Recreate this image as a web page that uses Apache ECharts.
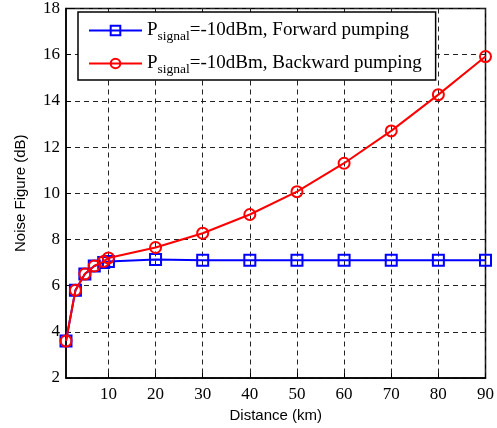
<!DOCTYPE html>
<html>
<head>
<meta charset="utf-8">
<script src="https://cdn.jsdelivr.net/npm/echarts@6/dist/echarts.min.js"></script>
<style>
  html, body { margin: 0; padding: 0; background: #fff; }
  #chart { width: 497px; height: 428px; }
</style>
</head>
<body>
<div id="chart"></div>
<script>
// distance (km)
const distance = [1, 3, 5, 7, 9, 10, 20, 30, 40, 50, 60, 70, 80, 90];
// noise figure (dB)
const forwardNF = [3.6, 5.8, 6.5, 6.85, 7.0, 7.05, 7.13, 7.1, 7.1, 7.1, 7.1, 7.1, 7.1, 7.1];
const backwardNF = [3.6, 5.8, 6.5, 6.85, 7.05, 7.2, 7.65, 8.27, 9.08, 10.07, 11.3, 12.7, 14.27, 15.92];
const xTicks = [10, 20, 30, 40, 50, 60, 70, 80, 90];
const seriesNames = ['forward', 'backward'];
const legendText = {
    forward: '{p|P}{s|signal}{p|=-10dBm, Forward pumping}',
    backward: '{p|P}{s|signal}{p|=-10dBm, Backward pumping}'
};

const serif = '"Liberation Serif", "Times New Roman", serif';
const sans = '"Liberation Sans", Arial, sans-serif';
const gridLine = { show: true, lineStyle: { color: '#222', type: [5, 4], width: 1 } };

let chart = echarts.init(document.getElementById('chart'));
chart.setOption({
    animation: false,
    grid: {
        left: 66, right: 11, top: 6, bottom: 50,
        show: true, borderColor: '#000', borderWidth: 1.5, backgroundColor: 'transparent'
    },
    legend: {
        left: 78, top: 12,
        orient: 'vertical',
        itemGap: 11,
        itemWidth: 53,
        itemHeight: 12,
        padding: [9, 14, 4, 10],
        borderColor: '#000',
        borderWidth: 1.5,
        backgroundColor: '#fff',
        data: seriesNames,
        formatter: name => legendText[name],
        textStyle: {
            rich: {
                p: { fontFamily: serif, fontSize: 19, color: '#000' },
                s: { fontFamily: serif, fontSize: 13.5, color: '#000', padding: [11, 0, 0, 0] }
            }
        }
    },
    xAxis: {
        type: 'value',
        min: 1, max: 90,
        name: 'Distance (km)',
        nameLocation: 'middle',
        nameGap: 27,
        nameTextStyle: { fontFamily: sans, fontSize: 15, color: '#000' },
        axisLine: { show: true, onZero: false, lineStyle: { color: '#000', width: 1.5 } },
        axisTick: { show: true, inside: true, length: 5, customValues: xTicks, lineStyle: { color: '#000' } },
        axisLabel: { customValues: xTicks, fontFamily: serif, fontSize: 17, color: '#000', margin: 8 },
        splitLine: gridLine
    },
    yAxis: {
        type: 'value',
        min: 2, max: 18, interval: 2,
        name: 'Noise Figure (dB)',
        nameLocation: 'middle',
        nameGap: 38,
        nameTextStyle: { fontFamily: sans, fontSize: 15, color: '#000' },
        axisLine: { show: true, lineStyle: { color: '#000', width: 1.5 } },
        axisTick: { show: true, inside: true, length: 5, lineStyle: { color: '#000' } },
        axisLabel: { fontFamily: serif, fontSize: 17, color: '#000', margin: 6 },
        splitLine: gridLine
    },
    series: [
        {
            name: 'forward',
            type: 'line',
            data: distance.map((d, i) => [d, forwardNF[i]]),
            symbol: 'rect',
            symbolSize: 11,
            lineStyle: { color: '#0000ff', width: 2 },
            itemStyle: { color: 'rgba(255,255,255,0)', borderColor: '#0000ff', borderWidth: 2 },
            z: 3
        },
        {
            name: 'backward',
            type: 'line',
            data: distance.map((d, i) => [d, backwardNF[i]]),
            symbol: 'circle',
            symbolSize: 11,
            lineStyle: { color: '#ff0000', width: 2 },
            itemStyle: { color: 'rgba(255,255,255,0)', borderColor: '#ff0000', borderWidth: 2 },
            z: 4
        }
    ]
});
</script>
</body>
</html>
